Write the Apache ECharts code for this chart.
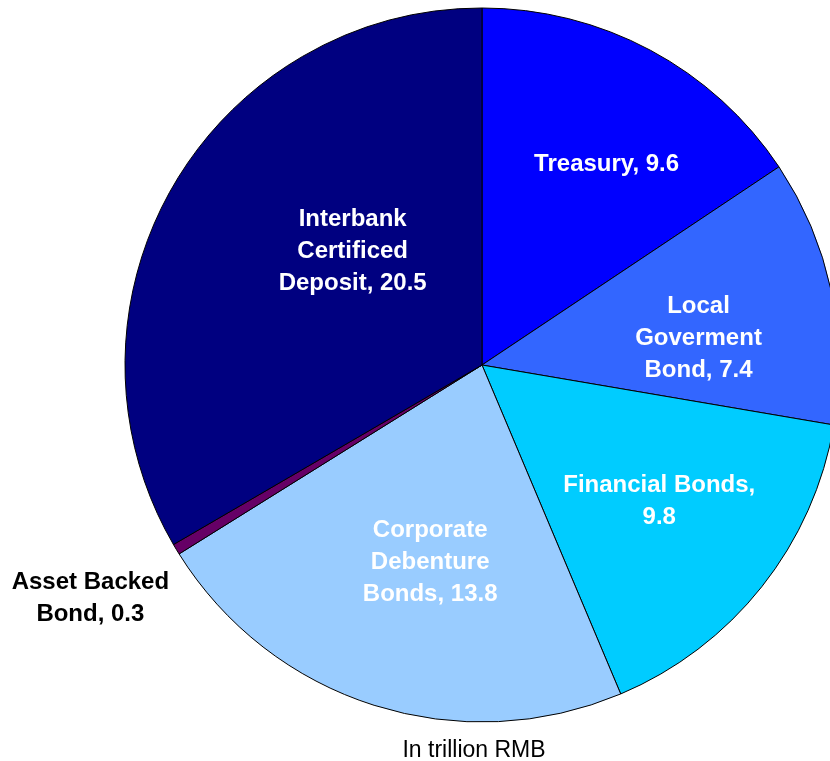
<!DOCTYPE html>
<html><head><meta charset="utf-8">
<script src="https://cdn.jsdelivr.net/npm/echarts@6/dist/echarts.min.js"></script>
<style>html,body{margin:0;padding:0;background:#fff}#c{width:830px;height:761px}</style>
</head><body><div id="c"></div>
<script>
const categories = ['Treasury', 'Local Goverment Bond', 'Financial Bonds', 'Corporate Debenture Bonds', 'Asset Backed Bond', 'Interbank Certificed Deposit'];
const labelNames = ['Treasury, ', 'Local\nGoverment\nBond, ', 'Financial Bonds,\n', 'Corporate\nDebenture\nBonds, ', 'Asset Backed\nBond, ', 'Interbank\nCertificed\nDeposit, '];
const values = [9.6, 7.4, 9.8, 13.8, 0.3, 20.5];
const colors = ['#0000FF', '#3366FF', '#00CCFF', '#99CCFF', '#660066', '#000080'];
const labelOffsets = [[39, -41], [39, 11], [35, 24], [3, 24], [-38, 41], [28, -23]];

const data = values.map((v, i) => {
  const d = {
    value: v,
    name: categories[i],
    itemStyle: { color: colors[i] },
    label: { offset: labelOffsets[i], formatter: labelNames[i] + v }
  };
  if (i === 4) {
    d.label = {
      position: 'outside', color: '#000', formatter: labelNames[i] + v,
      offset: labelOffsets[i]
    };
    d.labelLine = { show: false };
  }
  return d;
});

const chart = echarts.init(document.getElementById('c'));
chart.setOption({
  animation: false,
  backgroundColor: '#fff',
  title: {
    text: 'In trillion RMB', left: 469, top: 734, textAlign: 'center',
    textStyle: { fontFamily: 'Liberation Sans, Arial', fontSize: 23, fontWeight: 'normal', color: '#000' }
  },
  series: [{
    type: 'pie',
    center: [482, 365],
    radius: [0, 357],
    startAngle: 90,
    clockwise: true,
    avoidLabelOverlap: false,
    itemStyle: { borderColor: '#000', borderWidth: 1 },
    label: {
      show: true, position: 'inside', color: '#fff',
      fontFamily: 'Liberation Sans, Arial', fontSize: 24, fontWeight: 'bold',
      lineHeight: 32, align: 'center'
    },
    labelLine: { show: false },
    labelLayout: function (p) {
      return p.dataIndex === 4 ? { align: 'center' } : {};
    },
    emphasis: { disabled: true },
    data: data
  }]
});
</script></body></html>
